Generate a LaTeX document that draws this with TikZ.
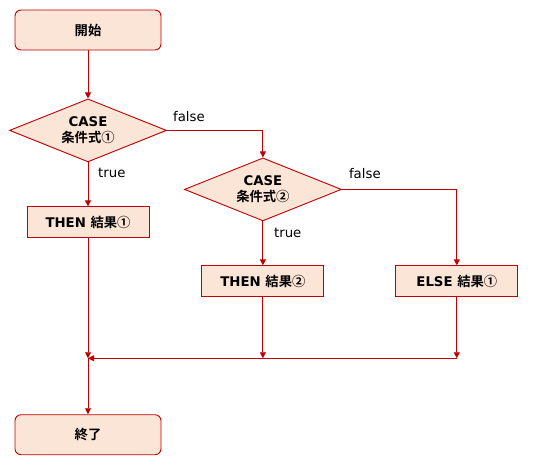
\documentclass[tikz,border=0pt]{standalone}
\usepackage{fontspec}
\setmainfont{DejaVu Sans}
\newfontfamily\jp{Noto Sans CJK JP}[BoldFont={Noto Sans CJK JP Bold}]
\usetikzlibrary{positioning,arrows.meta,shapes.geometric}
\definecolor{edge}{RGB}{192,0,0}
\definecolor{pale}{RGB}{251,229,214}

\begin{document}
\begin{tikzpicture}[
  >={Triangle[length=6pt,width=6pt]}, font=\fontsize{13.3}{17}\selectfont,
  term/.style={rectangle, rounded corners=6pt, draw=edge, fill=pale, line width=0.9pt,
               minimum width=146pt, minimum height=40pt, font=\fontsize{13.3}{17}\selectfont\bfseries},
  proc/.style={rectangle, draw=edge, fill=pale, line width=0.9pt,
               minimum width=122pt, minimum height=31pt, font=\fontsize{13.3}{17}\selectfont\bfseries},
  dec/.style={diamond, shape aspect=2.5, draw=edge, fill=pale, line width=0.9pt, inner sep=0pt, align=center,
              minimum width=157pt, minimum height=63pt, font=\fontsize{13.3}{16}\selectfont\bfseries},
  flow/.style={->, draw=edge, line width=0.9pt},
  lbl/.style={inner sep=0pt},
]
\useasboundingbox (0,0) rectangle (538pt,-467pt);

% ---------- main column ----------
\node[term] (start) at (88pt,-30pt) {\jp 開始};
\node[dec, below=48pt of start] (dec1) {CASE\\{\jp 条件式①}};
\node[proc, below=44pt of dec1] (then1) {THEN {\jp 結果①}};

% ---------- second test ----------
\node[dec, right=17pt of dec1, yshift=-59pt] (dec2) {CASE\\{\jp 条件式②}};
\node[proc, below=44pt of dec2] (then2) {THEN {\jp 結果②}};
\node[proc, right=71pt of then2] (else1) {ELSE {\jp 結果①}};

\node[term, below=176pt of then1] (stop) {\jp 終了};
\coordinate[below=120pt of then1.south] (merge);

% branches
\draw[flow] (start) -- (dec1);
\draw[flow] (dec1) -- (then1);
\draw[flow] (dec1.east) -| (dec2.north);
\draw[flow] (dec2) -- (then2);
\draw[flow] (dec2.east) -| (else1.north);

\node[lbl, above right=9pt and 6pt of dec1.east] (f1) {false};
\node[lbl, below right=6pt and 10pt of dec1.south] (t1) {true};
\node[lbl, above right=11pt and 7pt of dec2.east] (f2) {false};
\node[lbl, below right=7pt and 11pt of dec2.south] (t2) {true};

% merge back to the end
\draw[flow] (then1) -- (merge);
\draw[flow] (then2) -- (merge -| then2);
\draw[flow] (else1) -- (merge -| else1);
\draw[flow] (merge -| else1) -- (merge);
\draw[flow] (merge) -- (stop);

\end{tikzpicture}
\end{document}
